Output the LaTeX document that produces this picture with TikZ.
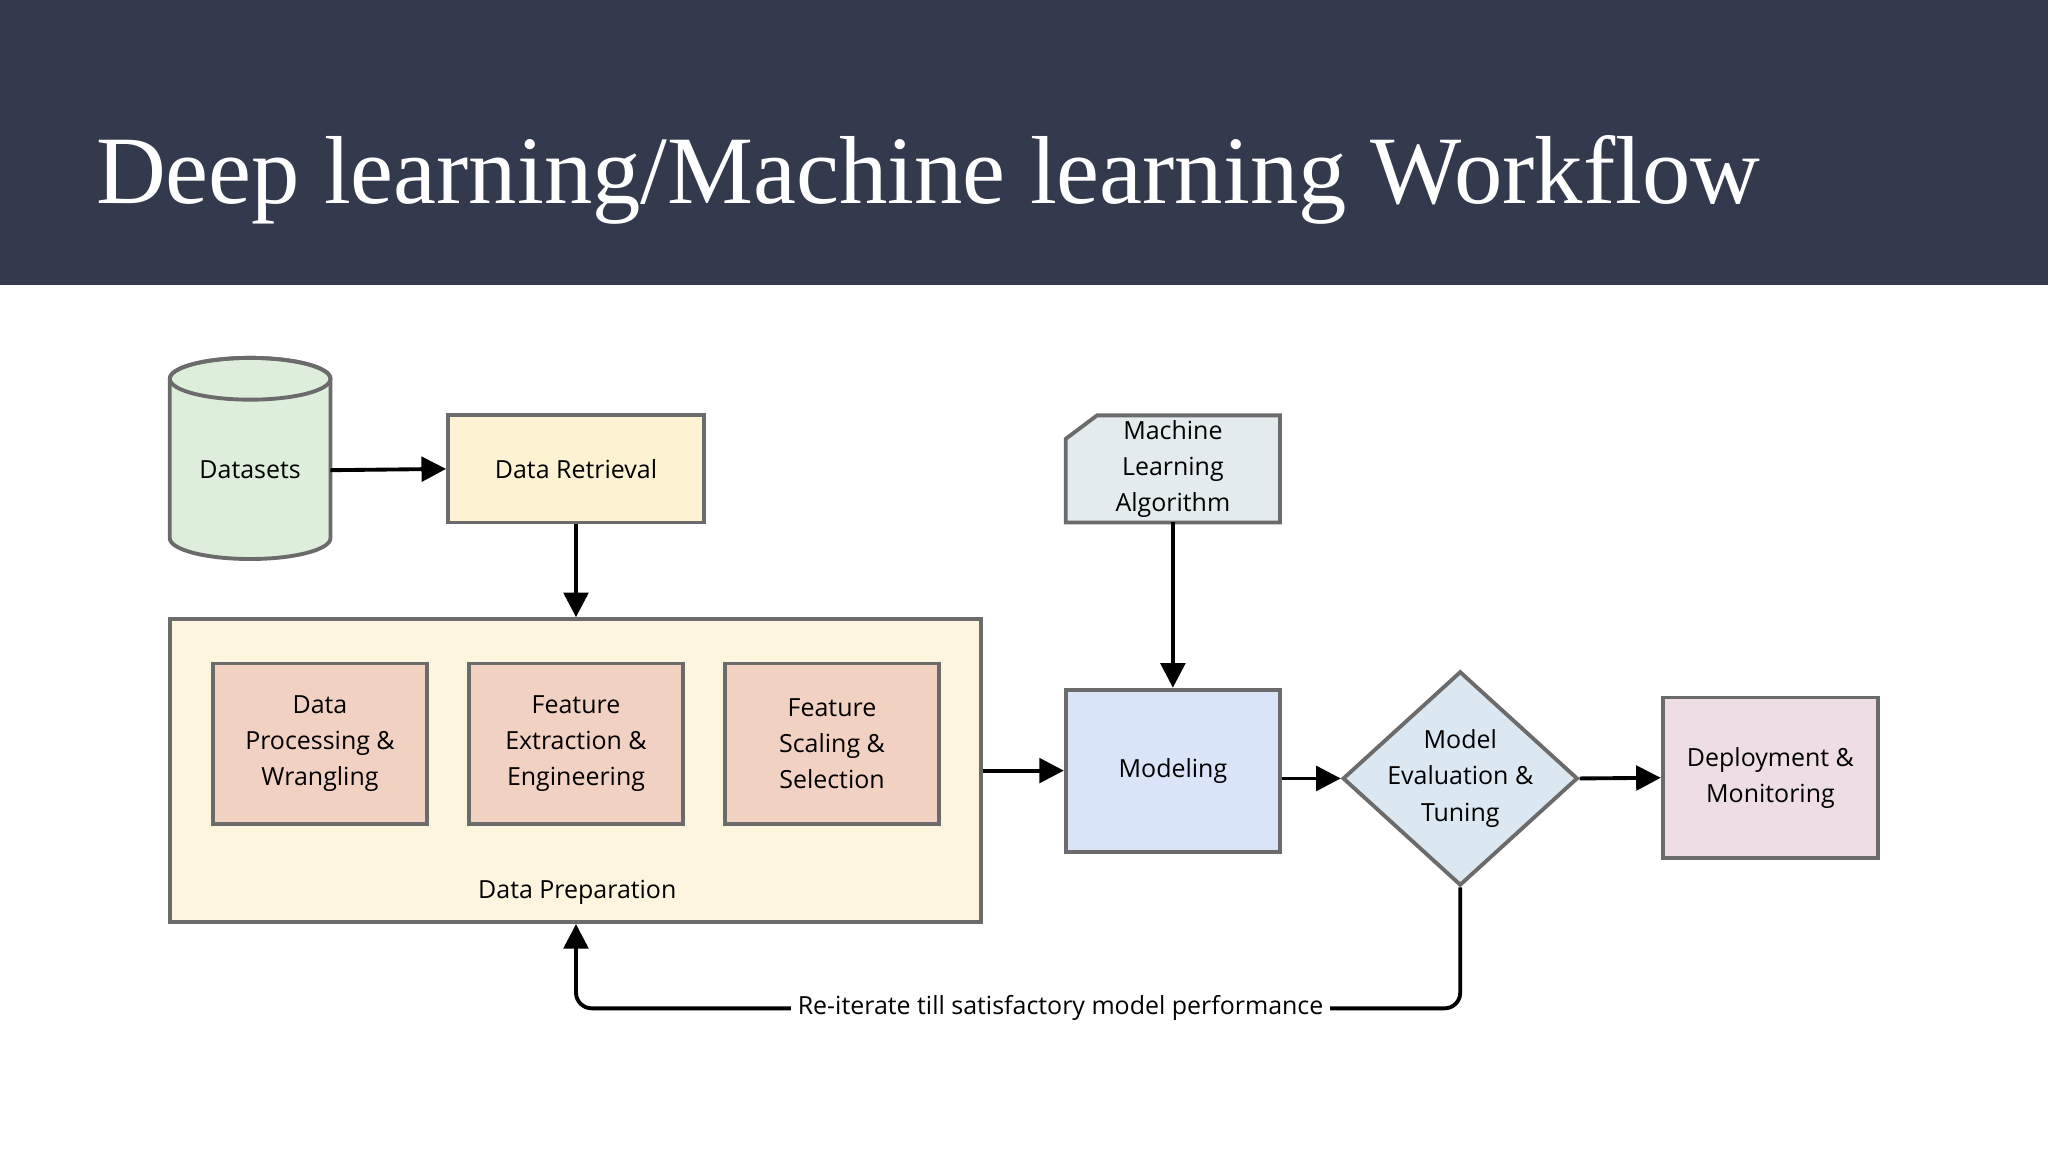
\documentclass[tikz,border=0pt]{standalone}
\usepackage{fontspec}
\setmainfont{Liberation Serif}
\newfontfamily\bodyfont{Open Sans}
\usetikzlibrary{shapes.geometric,arrows.meta}
\definecolor{navy}{HTML}{333A4D}
\definecolor{edge}{HTML}{6B6B6B}
\definecolor{cgreen}{HTML}{DDEEDB}
\definecolor{cyellow}{HTML}{FDF2D2}
\definecolor{cprep}{HTML}{FEF5DF}
\definecolor{csalmon}{HTML}{F1D1C2}
\definecolor{cgrey}{HTML}{E4EBEE}
\definecolor{cblue}{HTML}{DAE4F8}
\definecolor{cdia}{HTML}{DCE8F1}
\definecolor{cpink}{HTML}{EEDDE5}
\newlength\pxu \setlength\pxu{0.013061cm}
\begin{document}
\begin{tikzpicture}[x=0.013061cm,y=-0.013061cm,
  txt/.style={font=\bodyfont\fontsize{7.1}{10.3}\selectfont,align=center},
  box/.style={txt,draw=edge,line width=1.1pt,inner sep=0pt},
  arr/.style={line width=1.1pt,-{Triangle[length=7pt,width=7pt]}}]
\useasboundingbox (0,0) rectangle (1568,882);
\fill[navy] (0,0) rectangle (1568,218);
\node[anchor=west,text=white,font=\fontsize{27.5}{32}\selectfont] (title) at (64,138) {Deep learning/Machine learning Workflow};
% cylinder
\filldraw[fill=cgreen,draw=edge,line width=1.1pt] (130,290) -- (130,412) arc[start angle=180,end angle=0,x radius=61.5,y radius=16] -- (253,290) arc[start angle=0,end angle=-180,x radius=61.5,y radius=16];
\draw[edge,line width=1.1pt] (191.5,290) ellipse[x radius=61.5,y radius=16];
\node[txt] (ds) at (191.5,360) {Datasets};
\coordinate (dsr) at (253,360);
\node[box,fill=cyellow,minimum width=196\pxu,minimum height=82\pxu] (dr) at (441,359) {Data Retrieval};
% ML algorithm card
\filldraw[fill=cgrey,draw=edge,line width=1.1pt] (840,318) -- (980,318) -- (980,400) -- (816,400) -- (816,336) -- cycle;
\node[txt] (mla) at (898,359) {Machine\\Learning\\Algorithm};
\coordinate (mlab) at (898,400);
% data prep
\node[box,fill=cprep,minimum width=621\pxu,minimum height=232\pxu] (prep) at (440.5,590) {};
\node[txt] (preplab) at (442,683) {Data Preparation};
\node[box,fill=csalmon,minimum width=164\pxu,minimum height=123\pxu] (b1) at (245,569.5) {Data\\Processing \&\\Wrangling};
\node[box,fill=csalmon,minimum width=164\pxu,minimum height=123\pxu] (b2) at (441,569.5) {Feature\\Extraction \&\\Engineering};
\node[box,fill=csalmon,minimum width=164\pxu,minimum height=123\pxu] (b3) at (637,569.5) {Feature\\Scaling \&\\Selection};
\node[box,fill=cblue,minimum width=164\pxu,minimum height=124\pxu] (mod) at (898,590) {Modeling};
\node[box,fill=cdia,diamond,minimum width=180\pxu,minimum height=164\pxu,aspect=1.1] (eval) at (1118,596) {};
\node[txt] (evallab) at (1118,596) {Model\\Evaluation \&\\Tuning};
\node[box,fill=cpink,minimum width=165\pxu,minimum height=123\pxu] (dep) at (1355.5,595.5) {Deployment \&\\Monitoring};
% arrows
\draw[arr] (dsr) -- (dr.west);
\draw[arr] (dr.south) -- (prep.north-|dr.south);
\draw[arr] (mlab) -- (mod.north);
\draw[arr] (prep.east|-mod.west) -- (mod.west);
\draw[arr] (mod.east|-eval.west) -- (eval.west);
\draw[arr] (eval.east) -- (dep.west);
\coordinate (lp1) at (1118,772);
\coordinate (lp2) at (441,772);
\draw[arr,rounded corners=12\pxu] (eval.south) -- (lp1) -- (lp2) -- (prep.south-|lp2);
\node[txt,fill=white,inner sep=2pt] (loop) at (812,772) {Re-iterate till satisfactory model performance};
\end{tikzpicture}
\end{document}
